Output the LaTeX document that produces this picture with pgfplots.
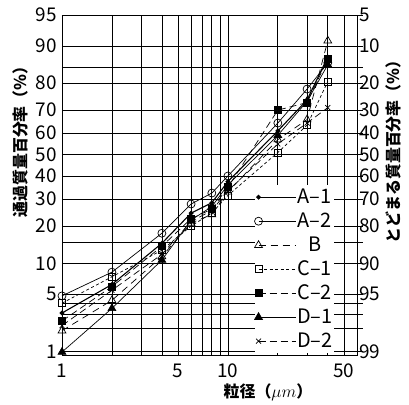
\documentclass[border=0pt]{standalone}
\usepackage{fontspec}
\setmainfont{Noto Sans CJK JP}
\usepackage{pgfplots}
\pgfplotsset{compat=1.18}
\pgfplotsset{
  myprobit/.style={
    y coord trafo/.code={%
      \pgfmathparse{##1/100}\let\pq\pgfmathresult
      \pgfmathparse{min(\pq,1-\pq)}\let\pr\pgfmathresult
      \pgfmathparse{sqrt(-2*ln(\pr))}\let\pt\pgfmathresult
      \pgfmathparse{(\pt-(2.515517+0.802853*\pt+0.010328*\pt*\pt)/(1+1.432788*\pt+0.189269*\pt*\pt+0.001308*\pt*\pt*\pt))*((\pq<0.5)*(-2)+1)}%
    },
  },
}
\begin{document}
\begin{tikzpicture}
\path[use as bounding box] (-62bp,-50bp) rectangle (347bp,355bp);
\begin{axis}[
  width=295bp, height=340bp, scale only axis,
  at={(0,0)}, anchor=south west,
  xmode=log, xmin=1, xmax=60,
  myprobit, ymin=0.9, ymax=95,
  ytick={1,2,3,4,5,10,15,20,30,40,50,60,70,80,85,90,95},
  xtick={1,2,3,4,5,6,7,8,9,10,20,30,40,50},
  xticklabels={1,,,,5,,,,,10,,,,50},
  yticklabels={1,,,,5,10,,20,30,40,50,60,70,80,,90,95},
  grid=major,
  grid style={black, line width=0.7bp},
  axis line style={black, line width=0.8bp},
  major tick length=0pt,
  ticklabel style={font=\fontsize{19}{19}\selectfont, inner sep=0pt},
  yticklabel style={anchor=east, xshift=-5bp},
  xticklabel style={anchor=north, yshift=-9bp},
  legend cell align=center,
  legend image code/.code={%
    \draw[#1] (0bp,0bp) -- (37bp,0bp);
    \draw[#1] plot coordinates {(0bp,0bp)};
  },
  legend style={at={(0.652,0.5)}, anchor=north west, draw=none, fill=white,
    inner sep=0pt, row sep=0pt,
    font=\fontsize{20}{20}\selectfont,
    nodes={inner sep=1bp, minimum height=24bp}},
]
% A-1
\addplot[black, line width=1.1bp, mark=*, mark size=1.8bp] coordinates {
(1,3.1) (2,6.3) (4,14.8) (6,24.5) (8,28.5) (10,37.5) (20,61) (30,74) (40,87.5)};
\addlegendentry{A–1}
% A-2
\addplot[black, line width=0.7bp, mark=o, mark size=4bp, mark options={fill=white}] coordinates {
(1,4.8) (2,8.3) (4,17.7) (6,28) (8,32.5) (10,40) (20,64.5) (30,78) (40,86)};
\addlegendentry{A–2}
% B
\addplot[black, line width=0.7bp, dash pattern=on 7bp off 5bp, mark=triangle, mark size=4.5bp, mark options={solid, fill=white}] coordinates {
(1,1.9) (2,4.3) (4,11.5) (6,21) (8,24) (10,33) (20,57) (30,66) (40,91)};
\addlegendentry{B}
% C-1
\addplot[black, line width=0.7bp, dash pattern=on 3bp off 2.5bp, mark=square, mark size=3.5bp, mark options={solid, fill=white}] coordinates {
(1,4.0) (2,7.5) (4,13) (6,20) (8,24.5) (10,31.5) (20,51) (30,63.6) (40,80.5)};
\addlegendentry{C–1}
% C-2
\addplot[black, line width=0.7bp, dash pattern=on 7bp off 4bp, mark=square*, mark size=3.5bp, mark options={solid, fill=black}] coordinates {
(1,2.5) (2,6.0) (4,14) (6,22.5) (8,26) (10,35) (20,70) (30,73) (40,87)};
\addlegendentry{C–2}
% D-1
\addplot[black, line width=0.7bp, mark=triangle*, mark size=4.5bp, mark options={solid, fill=black}] coordinates {
(1,1.0) (2,3.5) (4,10.7) (6,22) (8,27) (10,36) (20,59) (30,73.5) (40,85.5)};
\addlegendentry{D–1}
% D-2
\addplot[black, line width=0.7bp, dash pattern=on 7bp off 4bp, mark=x, mark size=3.5bp, mark options={solid}] coordinates {
(1,2.2) (2,5.5) (4,12) (6,21.5) (8,25.5) (10,33.5) (20,55) (30,64.5) (40,71)};
\addlegendentry{D–2}
\end{axis}
\begin{axis}[
  width=295bp, height=340bp, scale only axis,
  at={(0,0)}, anchor=south west,
  xmode=log, xmin=1, xmax=60,
  myprobit, ymin=0.9, ymax=95,
  ytick={1,2,3,4,5,10,15,20,30,40,50,60,70,80,85,90,95},
  axis x line=none, axis y line*=right,
  yticklabels={99,,,,95,90,,80,70,60,50,40,30,20,,10,5},
  tick align=outside, major tick length=6bp,
  tick style={black, line width=0.7bp},
  axis line style={black, line width=0.8bp},
  ticklabel style={font=\fontsize{19}{19}\selectfont, inner sep=0pt},
  yticklabel style={anchor=west, xshift=-4bp},
]
\addplot[draw=none] coordinates {(1,50)};
\end{axis}
\node[rotate=90, font=\fontsize{16}{16}\selectfont\bfseries] at (-42bp,217bp) {通過質量百分率（％）};
\node[rotate=90, font=\fontsize{16}{16}\selectfont\bfseries] at (331bp,207bp) {とどまる質量百分率（％）};
\node[font=\fontsize{16}{16}\selectfont\bfseries] at (206bp,-37bp) {粒径（$\mu m$）};
\end{tikzpicture}
\end{document}
